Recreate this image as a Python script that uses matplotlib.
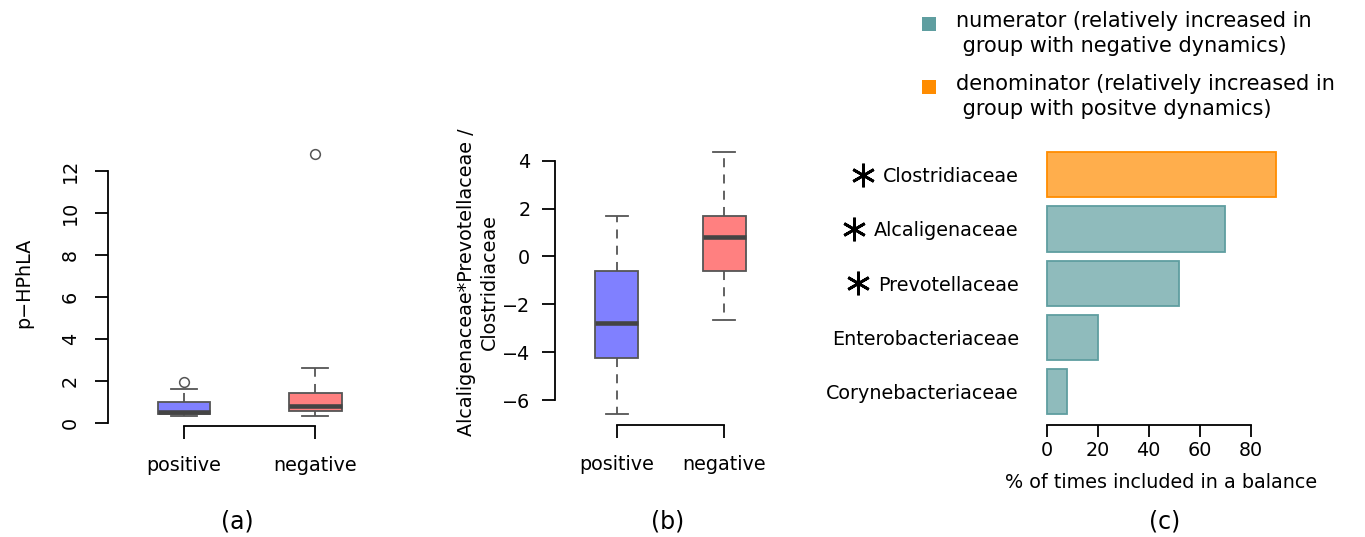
import matplotlib
matplotlib.use("Agg")
import matplotlib.pyplot as plt
from matplotlib.patches import Rectangle

# ---- data ----
groups = ["positive", "negative"]

# panel (a): p-HPhLA
a_q1 = [0.44, 0.60]
a_med = [0.56, 0.82]
a_q3 = [1.03, 1.46]
a_lo = [0.36, 0.36]
a_hi = [1.63, 2.63]
a_out = [[1.95], [12.8]]

# panel (b): balance
b_q1 = [-4.23, -0.60]
b_med = [-2.77, 0.82]
b_q3 = [-0.61, 1.69]
b_lo = [-6.60, -2.66]
b_hi = [1.67, 4.36]

# panel (c): % of times included in a balance (top to bottom)
families = ["Clostridiaceae", "Alcaligenaceae", "Prevotellaceae",
            "Enterobacteriaceae", "Corynebacteriaceae"]
percent = [90, 70, 52, 20, 8]
role = ["den", "num", "num", "num", "num"]
starred = [True, True, True, False, False]

legend_labels = ["numerator (relatively increased in\n group with negative dynamics)",
                 "denominator (relatively increased in\n group with positve dynamics)"]

box_colors = ["#8080FF", "#FF8080"]
edge = {"num": "#5F9EA0", "den": "#FF8C00"}
fill = {"num": "#8FBBBC", "den": "#FFAE4C"}

W, H = 1365, 537
fig = plt.figure(figsize=(W / 100, H / 100), dpi=100)
FS = 13.8
PANEL_FS = 17


def px_axes(x0, y0, x1, y1):
    return fig.add_axes([x0 / W, 1 - y1 / H, (x1 - x0) / W, (y1 - y0) / H])


def r_style(ax, tick_len=9.4):
    for s in ["top", "right"]:
        ax.spines[s].set_visible(False)
    for s in ["left", "bottom"]:
        ax.spines[s].set_linewidth(1.3)
    ax.tick_params(length=tick_len, width=1.3, labelsize=FS, direction="out")


def boxes(ax, q1, med, q3, lo, hi, fliers):
    stats = []
    for i in range(len(groups)):
        stats.append(dict(q1=q1[i], med=med[i], q3=q3[i], whislo=lo[i],
                          whishi=hi[i], fliers=fliers[i]))
    bp = ax.bxp(stats, positions=[1, 2], widths=0.4, patch_artist=True,
                capwidths=0.2,
                boxprops=dict(edgecolor="#555555", linewidth=1.3),
                whiskerprops=dict(color="#555555", linewidth=1.3, linestyle=(0, (5, 4))),
                capprops=dict(color="#555555", linewidth=1.3),
                medianprops=dict(color="#444444", linewidth=3.3, solid_capstyle="butt"),
                flierprops=dict(marker="o", markerfacecolor="none",
                                markeredgecolor="#555555", markersize=7, markeredgewidth=1.1))
    for patch, c in zip(bp["boxes"], box_colors):
        patch.set_facecolor(c)
    ax.set_xlim(0.42, 2.58)
    ax.set_xticks([1, 2])
    ax.set_xticklabels(groups)
    ax.spines["bottom"].set_bounds(1, 2)
    ax.tick_params(axis="x", pad=12)


# ---- panel (a) ----
ax1 = px_axes(108, 144, 391.5, 426.2)
r_style(ax1)
boxes(ax1, a_q1, a_med, a_q3, a_lo, a_hi, a_out)
ax1.set_ylim(-0.14, 13.3)
ax1.set_yticks(range(0, 13, 2))
ax1.spines["left"].set_bounds(0, 12)
ax1.tick_params(axis="y", pad=11)
for lab in ax1.get_yticklabels():
    lab.set_rotation(90)
    lab.set_va("center")
fig.text(24 / W, 1 - 283 / H, "p\u2212HPhLA", rotation=90, ha="center", va="center", fontsize=FS)
fig.text(237 / W, 1 - 521 / H, "(a)", ha="center", va="center", fontsize=PANEL_FS)

# ---- panel (b) ----
ax2 = px_axes(554.5, 141.5, 786.5, 425)
r_style(ax2)
boxes(ax2, b_q1, b_med, b_q3, b_lo, b_hi, [[], []])
ax2.set_ylim(-7.04, 4.8)
ax2.set_yticks(range(-6, 5, 2))
ax2.spines["left"].set_bounds(-6, 4)
ax2.tick_params(axis="y", pad=8)
fig.text(478 / W, 1 - 282 / H, "Alcaligenaceae*Prevotellaceae /\nClostridiaceae", rotation=90,
         ha="center", va="center", fontsize=FS, linespacing=1.25, multialignment="center")
fig.text(668 / W, 1 - 521 / H, "(b)", ha="center", va="center", fontsize=PANEL_FS)

# ---- panel (c) ----
ax3 = px_axes(1037.5, 132.2, 1285.4, 425.3)
r_style(ax3, tick_len=8.4)
ax3.spines["left"].set_visible(False)
n = len(families)
ypos = [0.7 + 1.2 * (n - 1 - i) for i in range(n)]
ax3.barh(ypos, percent, height=1.0,
         color=[fill[r] for r in role], edgecolor=[edge[r] for r in role], linewidth=1.3)
ax3.set_xlim(-3.6, 93.6)
ax3.set_ylim(-0.04, 6.44)
ax3.set_xticks(range(0, 81, 20))
ax3.spines["bottom"].set_bounds(0, 80)
ax3.set_yticks(ypos)
ax3.set_yticklabels(families)
ax3.tick_params(axis="y", length=0, pad=13.5)
ax3.tick_params(axis="x", pad=3)
fig.text(1161.5 / W, 1 - 483 / H, "% of times included in a balance", ha="center", va="center",
         fontsize=FS)
fig.text(1165 / W, 1 - 521 / H, "(c)", ha="center", va="center", fontsize=PANEL_FS)

# asterisks before the significant families
fig.canvas.draw()
renderer = fig.canvas.get_renderer()
for lab, y, star in zip(ax3.get_yticklabels(), ypos, starred):
    if not star:
        continue
    bb = lab.get_window_extent(renderer)
    xs = (bb.x0 - 20) / W
    ys = ax3.transData.transform((0, y))[1] / H
    fig.lines.append(plt.Line2D([xs], [ys], transform=fig.transFigure, marker=(6, 2, 0),
                                markersize=17, markeredgewidth=2.0, color="black"))

# legend drawn by hand, square aligned with the first line
leg_y = [24, 87]
for lbl, r, y in zip(legend_labels, ["num", "den"], leg_y):
    fig.add_artist(Rectangle((922 / W, 1 - (y + 6.8) / H), 13.6 / W, 13.6 / H,
                             transform=fig.transFigure, color=edge[r], lw=0))
    fig.text(956 / W, 1 - (y - 13) / H, lbl, ha="left", va="top", fontsize=15,
             linespacing=1.3)

fig.savefig("out.png", dpi=100)
